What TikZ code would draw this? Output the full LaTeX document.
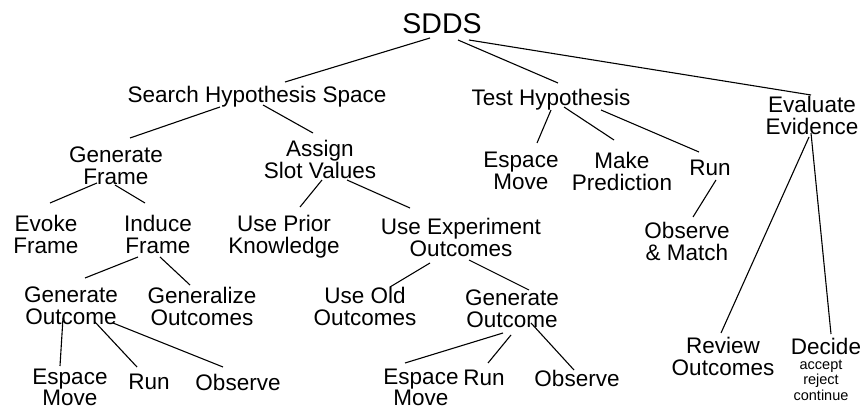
\documentclass[tikz,border=0pt]{standalone}
\usepackage{fontspec}
\setmainfont{Liberation Sans}
\usepackage{tikz}

\begin{document}
\begin{tikzpicture}[x=1pt,y=-1pt,
  lbl/.style={font=\fontsize{22.5}{21.5}\selectfont, align=center, inner sep=0pt, anchor=north},
  lowlbl/.style={lbl, font=\fontsize{22.5}{19}\selectfont},
  toplbl/.style={font=\fontsize{28.5}{28}\selectfont, inner sep=0pt, anchor=north},
  smalllbl/.style={font=\fontsize{14.5}{15.3}\selectfont, align=center, inner sep=0pt, anchor=north},
  link/.style={line width=1.1pt}]
\useasboundingbox (0,0) rectangle (862,411);

\node[toplbl] (sdds) at (442,13) {SDDS};

\node[lbl] (shs) at (257,86) {Search Hypothesis Space};
\node[lbl] (th) at (551,89) {Test Hypothesis};
\node[lbl] (ee) at (812,96) {Evaluate\\Evidence};

\node[lbl] (gf) at (116,147) {Generate\\Frame};
\node[lbl] (asv) at (320,140) {Assign\\Slot Values};
\node[lbl] (em1) at (521,152) {Espace\\Move};
\node[lbl] (mp) at (622,152) {Make\\Prediction};
\node[lbl] (run1) at (710,160) {Run};

\node[lbl] (evf) at (46,215) {Evoke\\Frame};
\node[lbl] (inf) at (158,215) {Induce\\Frame};
\node[lbl] (upk) at (284,215) {Use Prior\\Knowledge};
\node[lbl] (ueo) at (461,218) {Use Experiment\\Outcomes};
\node[lbl] (om) at (687,222) {Observe\\\& Match};

\node[lbl] (go1) at (71,287) {Generate\\Outcome};
\node[lbl] (gen) at (202,287) {Generalize\\Outcomes};
\node[lbl] (uoo) at (365,287) {Use Old\\Outcomes};
\node[lbl] (go2) at (512,290) {Generate\\Outcome};

\node[lbl] (ro) at (723,337) {Review\\Outcomes};
\node[lbl] (dec) at (826,338) {Decide};
\node[smalllbl] (acc) at (821,360) {accept\\reject\\continue};

\node[lowlbl] (em2) at (70,369) {Espace\\Move};
\node[lbl] (run2) at (149,374) {Run};
\node[lbl] (obs2) at (238,374) {Observe};
\node[lowlbl] (em3) at (421,369) {Espace\\Move};
\node[lbl] (run3) at (484,370) {Run};
\node[lbl] (obs3) at (577,370) {Observe};

% top level
\draw[link] ([shift={(-12,25)}]sdds.north) -- ([shift={(28,-4)}]shs.north);
\draw[link] ([shift={(16,27)}]sdds.north) -- ([shift={(7,-6)}]th.north);
\draw[link] ([shift={(27,27)}]sdds.north) -- ([shift={(-1,-1)}]ee.north);

% search hypothesis space
\draw[link] ([shift={(-37,21)}]shs.north) -- ([shift={(14,-9)}]gf.north);
\draw[link] ([shift={(6,19)}]shs.north) -- ([shift={(-7,-7)}]asv.north);
\draw[link] ([shift={(-19,36)}]gf.north) -- ([shift={(4,-12)}]evf.north);
\draw[link] ([shift={(-1,38)}]gf.north) -- ([shift={(-13,-12)}]inf.north);
\draw[link] ([shift={(2,40)}]asv.north) -- ([shift={(16,-8)}]upk.north);
\draw[link] ([shift={(27,40)}]asv.north) -- ([shift={(-51,-10)}]ueo.north);
\draw[link] ([shift={(-20,42)}]inf.north) -- ([shift={(14,-9)}]go1.north);
\draw[link] ([shift={(2,42)}]inf.north) -- ([shift={(-12,-2)}]gen.north);
\draw[link] ([shift={(-31,45)}]ueo.north) -- ([shift={(25,0)}]uoo.north);
\draw[link] ([shift={(8,42)}]ueo.north) -- ([shift={(17,0)}]go2.north);
\draw[link] ([shift={(-8,31)}]go1.north) -- ([shift={(-10,-3)}]em2.north);
\draw[link] ([shift={(24,35)}]go1.north) -- ([shift={(-12,-7)}]run2.north);
\draw[link] ([shift={(42,36)}]go1.north) -- ([shift={(-15,-7)}]obs2.north);
\draw[link] ([shift={(-9,43)}]go2.north) -- ([shift={(-16,-6)}]em3.north);
\draw[link] ([shift={(-1,45)}]go2.north) -- ([shift={(4,-7)}]run3.north);
\draw[link] ([shift={(19,33)}]go2.north) -- ([shift={(-3,0)}]obs3.north);

% test hypothesis
\draw[link] ([shift={(0,21)}]th.north) -- ([shift={(16,-9)}]em1.north);
\draw[link] ([shift={(13,18)}]th.north) -- ([shift={(-8,-12)}]mp.north);
\draw[link] ([shift={(50,21)}]th.north) -- ([shift={(-11,-8)}]run1.north);
\draw[link] ([shift={(6,20)}]run1.north) -- ([shift={(6,-5)}]om.north);

% evaluate evidence
\draw[link] ([shift={(-3,41)}]ee.north) -- ([shift={(-2,-4)}]ro.north);
\draw[link] ([shift={(-1,37)}]ee.north) -- ([shift={(5,-4)}]dec.north);
\end{tikzpicture}
\end{document}
